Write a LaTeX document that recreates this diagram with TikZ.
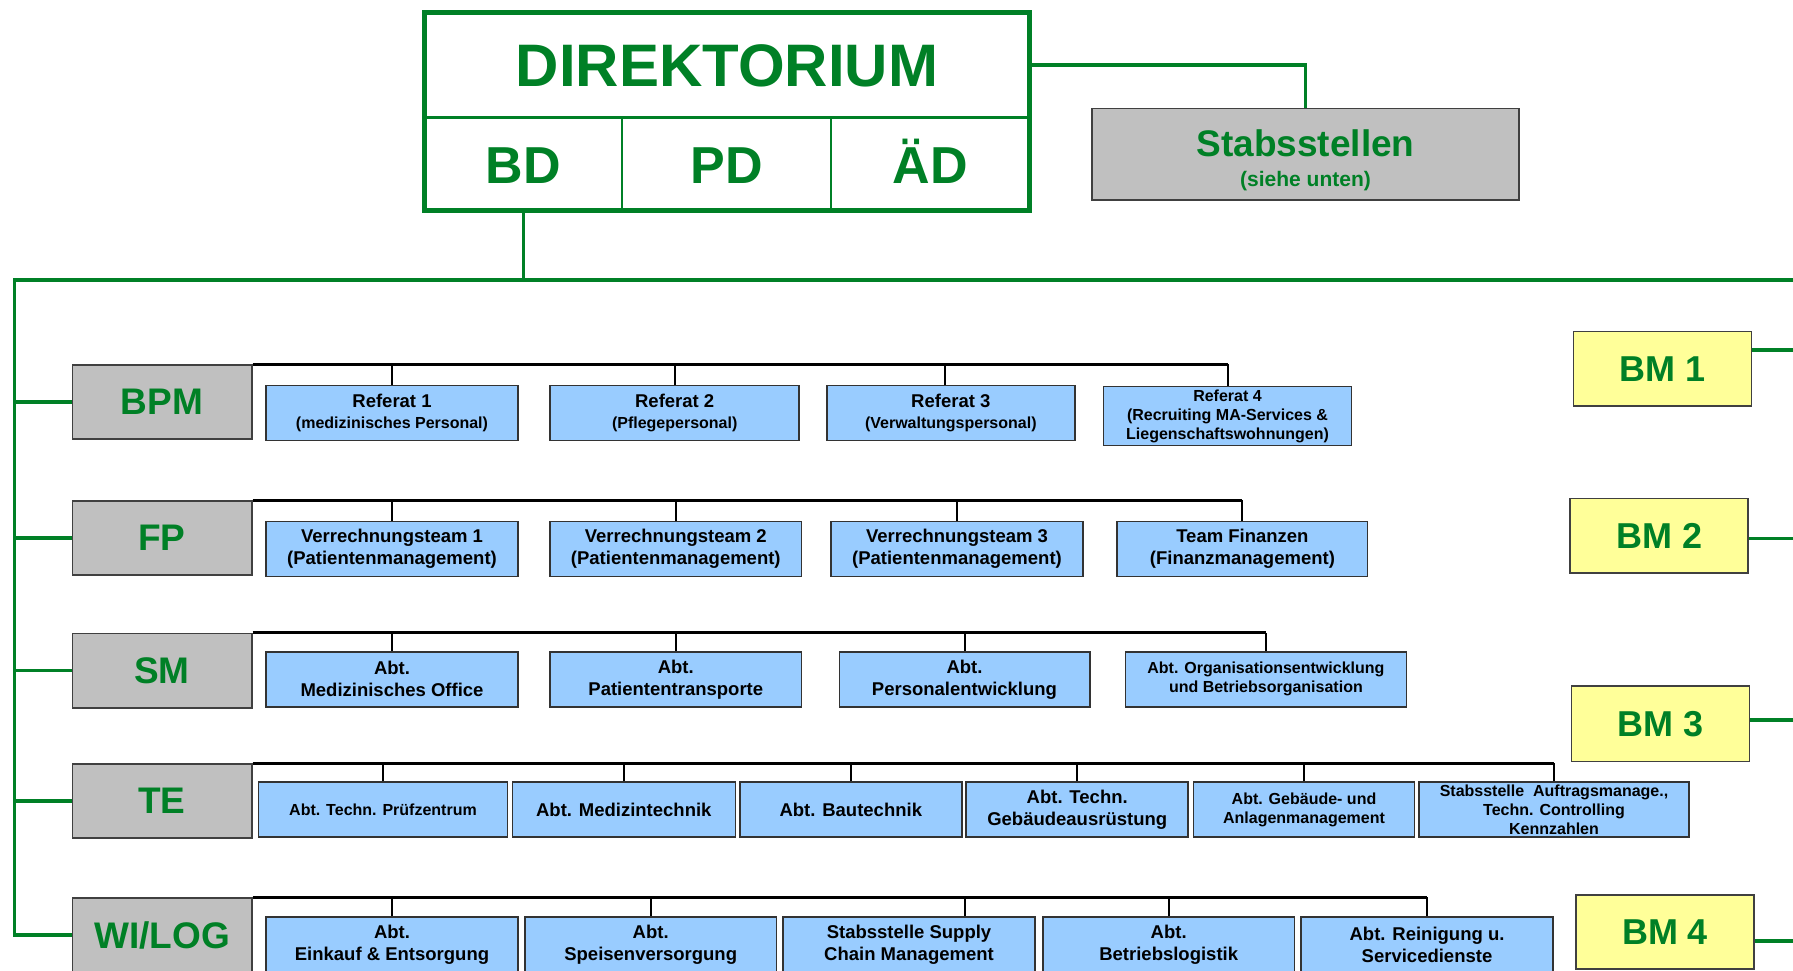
\documentclass[tikz,border=0pt]{standalone}
\usepackage{fontspec}
\setmainfont{Liberation Sans}
\definecolor{dgreen}{RGB}{0,128,38}
\definecolor{catgray}{RGB}{192,192,192}
\definecolor{unitblue}{RGB}{153,204,255}
\definecolor{bmyellow}{RGB}{255,255,153}
\begin{document}
\begin{tikzpicture}[x=1pt, y=-1pt, every node/.style={inner sep=0pt}]
\tikzstyle{green line}=[dgreen, line width=3.5]
\tikzstyle{bar}=[black, line width=3]
\tikzstyle{drop}=[black, line width=2]
\tikzstyle{head}=[text=dgreen, text height=38, text depth=0, font=\fontsize{52}{56}\selectfont\bfseries]
\tikzstyle{cat}=[draw=black!75, line width=1.5, fill=catgray, text=dgreen, minimum width=179.5, minimum height=74.3, font=\fontsize{37}{40}\selectfont\bfseries]
\tikzstyle{bm}=[draw=black!75, line width=1.5, fill=bmyellow, text=dgreen, minimum width=178, minimum height=74.4, font=\fontsize{36}{40}\selectfont\bfseries]
\tikzstyle{unit}=[draw=black!80, line width=1.5, fill=unitblue, align=center, minimum height=55, font=\fontsize{18.5}{22}\selectfont\bfseries]
\tikzstyle{unit small}=[unit, font=\fontsize{16}{19}\selectfont\bfseries]
\useasboundingbox (0,0) rectangle (1793,970);
\clip (0,0) rectangle (1793,970);
\node[head, minimum width=604, minimum height=105, text height=43, font=\fontsize{60}{64}\selectfont\bfseries] (dir) at (727,65) {DIREKTORIUM};
\node[head, minimum width=197, minimum height=92.6] (bd) at (523.5,164) {BD};
\node[head, minimum width=209, minimum height=92.6] (pd) at (726.5,164) {PD};
\node[head, minimum width=198, minimum height=92.6] (ad) at (930,164) {ÄD};
\draw[dgreen, line width=5] (dir.north west) rectangle (ad.south east);
\draw[dgreen, line width=3] (dir.south west) -- (dir.south east);
\draw[dgreen, line width=1.5] (bd.north east) -- (bd.south east);
\draw[dgreen, line width=1.5] (pd.north east) -- (pd.south east);
\node[draw=black!75, line width=1.5, fill=catgray, text=dgreen, align=center, minimum width=427, minimum height=91.5, font=\fontsize{21}{30}\selectfont\bfseries] (stab) at (1305.5,154.4) {{\fontsize{37}{40}\selectfont\rule{0pt}{39pt}Stabsstellen}\\(siehe unten)};
\node[cat] (bpm) at (162,402) {BPM};
\node[cat] (fp) at (162,538) {FP};
\node[cat] (sm) at (162,670.7) {SM};
\node[cat] (te) at (162,801) {TE};
\node[cat] (wl) at (162,935) {WI/LOG};
\node[bm] (bm1) at (1662.6,368.8) {BM 1};
\node[bm] (bm2) at (1659.2,535.7) {BM 2};
\node[bm, minimum height=75.6] (bm3) at (1660.3,723.8) {BM 3};
\node[bm] (bm4) at (1665,932) {BM 4};
\node[unit, minimum width=251.6, font=\fontsize{16}{21}\selectfont\bfseries] (r1) at (392,413) {{\fontsize{18.5}{21}\selectfont Referat 1}\\(medizinisches Personal)};
\node[unit, minimum width=249, font=\fontsize{16}{21}\selectfont\bfseries] (r2) at (674.7,413) {{\fontsize{18.5}{21}\selectfont Referat 2}\\(Pflegepersonal)};
\node[unit, minimum width=248, font=\fontsize{16}{21}\selectfont\bfseries] (r3) at (950.8,413) {{\fontsize{18.5}{21}\selectfont Referat 3}\\(Verwaltungspersonal)};
\node[unit small, minimum width=248, minimum height=59] (r4) at (1227.5,416) {Referat 4\\(Recruiting MA-Services \&\\Liegenschaftswohnungen)};
\node[unit, minimum width=251.6] (vt1) at (392,549) {Verrechnungsteam 1\\(Patientenmanagement)};
\node[unit, minimum width=251.6] (vt2) at (675.8,549) {Verrechnungsteam 2\\(Patientenmanagement)};
\node[unit, minimum width=251.6] (vt3) at (957,549) {Verrechnungsteam 3\\(Patientenmanagement)};
\node[unit, minimum width=250.4] (tf) at (1242.4,549) {Team Finanzen\\(Finanzmanagement)};
\node[unit, minimum width=251.6] (mo) at (392,679.3) {Abt.\\Medizinisches Office};
\node[unit, minimum width=251.6] (pt) at (675.8,679.3) {Abt.\\Patiententransporte};
\node[unit, minimum width=250.5] (pe) at (964.5,679.3) {Abt.\\Personalentwicklung};
\node[unit small, minimum width=281.3] (oe) at (1265.9,679.3) {Abt. Organisationsentwicklung\\und Betriebsorganisation};
\node[unit small, minimum width=249.3] (tp) at (383,809.7) {Abt. Techn. Prüfzentrum};
\node[unit, minimum width=223] (mt) at (623.8,809.7) {Abt. Medizintechnik};
\node[unit, minimum width=222] (bt) at (850.8,809.7) {Abt. Bautechnik};
\node[unit, minimum width=222] (ga) at (1077.2,809.7) {Abt. Techn.\\Gebäudeausrüstung};
\node[unit small, minimum width=221] (am) at (1304,809.7) {Abt. Gebäude- und\\Anlagenmanagement};
\node[unit small, minimum width=270] (sa) at (1554,809.7) {Stabsstelle\ \ Auftragsmanage.,\\Techn. Controlling\\Kennzahlen};
\node[unit, minimum width=251.6] (ek) at (392,944.5) {Abt.\\Einkauf \& Entsorgung};
\node[unit, minimum width=251.5] (sv) at (650.7,944.5) {Abt.\\Speisenversorgung};
\node[unit, minimum width=251.6] (sc) at (909,944.5) {Stabsstelle Supply\\Chain Management};
\node[unit, minimum width=251.5] (bl) at (1168.7,944.5) {Abt.\\Betriebslogistik};
\node[unit, minimum width=251.6] (rs) at (1427,944.5) {Abt. Reinigung u.\\Servicedienste};
\coordinate (top) at (14.5,280);
\coordinate (topR) at (1793,280);
\coordinate (r3drop) at ([xshift=-6]r3.north);
\coordinate (scdrop) at ([xshift=56]sc.north);
\draw[green line] (dir.east) -| (stab.north);
\draw[green line] (bd.south) -- (bd.south |- top);
\draw[green line] (topR) -- (top) |- (wl.west);
\draw[green line] (bpm.west) -- (bpm.west -| top);
\draw[green line] (fp.west) -- (fp.west -| top);
\draw[green line] (sm.west) -- (sm.west -| top);
\draw[green line] (te.west) -- (te.west -| top);
\draw[green line] ([yshift=19]bm1.east) -- ++(60,0);
\draw[green line] ([yshift=-3]bm2.east) -- ++(60,0);
\draw[green line] ([yshift=4]bm3.east) -- ++(60,0);
\draw[green line] ([yshift=-9]bm4.east) -- ++(60,0);
\draw[bar] (bpm.north east) -- (bpm.north east -| r4.north);
\draw[drop] (r1.north) -- (r1.north |- bpm.north);
\draw[drop] (r2.north) -- (r2.north |- bpm.north);
\draw[drop] (r3drop) -- (r3drop |- bpm.north);
\draw[drop] (r4.north) -- (r4.north |- bpm.north);
\draw[bar] (fp.north east) -- (fp.north east -| tf.north);
\draw[drop] (vt1.north) -- (vt1.north |- fp.north);
\draw[drop] (vt2.north) -- (vt2.north |- fp.north);
\draw[drop] (vt3.north) -- (vt3.north |- fp.north);
\draw[drop] (tf.north) -- (tf.north |- fp.north);
\draw[bar] (sm.north east) -- (sm.north east -| oe.north);
\draw[drop] (mo.north) -- (mo.north |- sm.north);
\draw[drop] (pt.north) -- (pt.north |- sm.north);
\draw[drop] (pe.north) -- (pe.north |- sm.north);
\draw[drop] (oe.north) -- (oe.north |- sm.north);
\draw[bar] (te.north east) -- (te.north east -| sa.north);
\draw[drop] (tp.north) -- (tp.north |- te.north);
\draw[drop] (mt.north) -- (mt.north |- te.north);
\draw[drop] (bt.north) -- (bt.north |- te.north);
\draw[drop] (ga.north) -- (ga.north |- te.north);
\draw[drop] (am.north) -- (am.north |- te.north);
\draw[drop] (sa.north) -- (sa.north |- te.north);
\draw[bar] (wl.north east) -- (wl.north east -| rs.north);
\draw[drop] (ek.north) -- (ek.north |- wl.north);
\draw[drop] (sv.north) -- (sv.north |- wl.north);
\draw[drop] (scdrop) -- (scdrop |- wl.north);
\draw[drop] (bl.north) -- (bl.north |- wl.north);
\draw[drop] (rs.north) -- (rs.north |- wl.north);
\end{tikzpicture}
\end{document}
